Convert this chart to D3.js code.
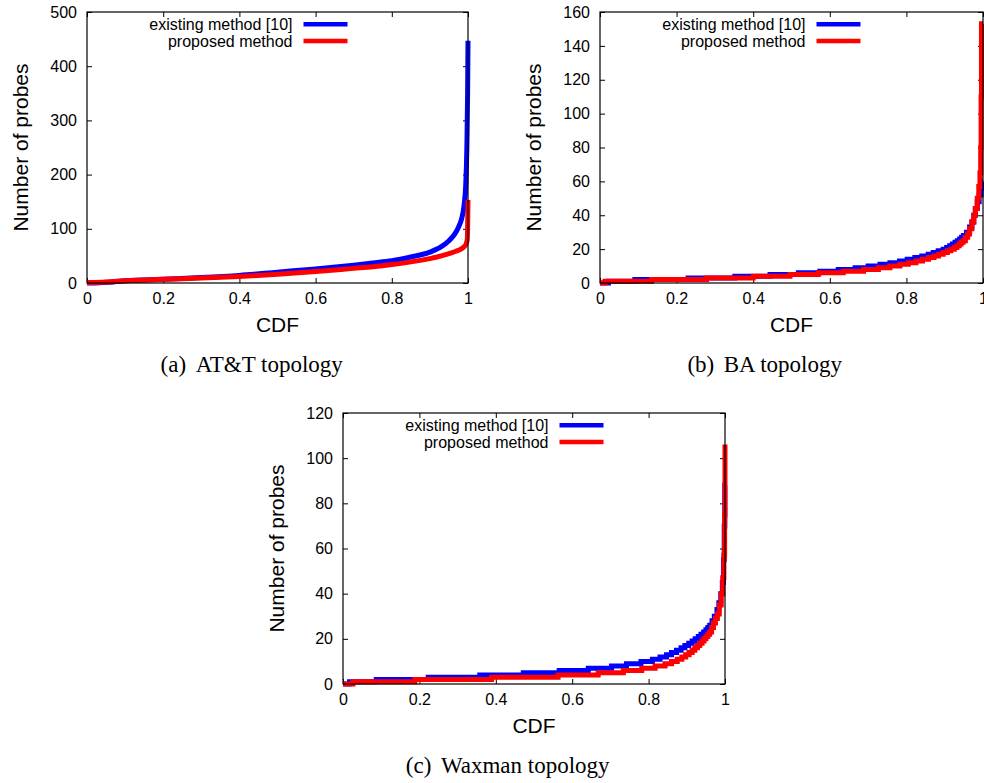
<!DOCTYPE html>
<html>
<head>
<meta charset="utf-8">
<script src="https://cdn.jsdelivr.net/npm/d3@7"></script>
<style>
  html, body { margin: 0; padding: 0; background: #fff; }
  svg { display: block; }
  .tick text { font-family: "Liberation Sans", Arial, sans-serif; font-size: 16px; fill: #000; }
</style>
</head>
<body>
<svg id="fig" width="984" height="783"></svg>
<script>
// ---- data: CDF of the number of probes per topology ----
const xTicks = [0, 0.2, 0.4, 0.6, 0.8, 1];
const attTicks = [0, 100, 200, 300, 400, 500];
const baTicks = [0, 20, 40, 60, 80, 100, 120, 140, 160];
const waxTicks = [0, 20, 40, 60, 80, 100, 120];

const seriesNames = ["existing method [10]", "proposed method"];
const captions = ["(a)\u00a0\u2006AT&T topology", "(b)\u00a0\u2006BA topology", "(c)\u00a0\u2006Waxman topology"];

// AT&T topology
const attExistingCdf    = [0, 0.07, 0.1, 0.2, 0.3, 0.4, 0.5, 0.6, 0.7, 0.75, 0.8, 0.85, 0.9, 0.93, 0.95, 0.965, 0.975, 0.983, 0.99, 0.994, 0.997, 0.999, 1.0];
const attExistingProbes = [0, 2, 4, 7, 10, 14, 20, 26, 33, 37, 41, 48, 57, 67, 78, 90, 103, 118, 145, 180, 250, 350, 447];
const attProposedCdf    = [0, 0.05, 0.1, 0.2, 0.3, 0.4, 0.5, 0.6, 0.7, 0.75, 0.8, 0.85, 0.9, 0.93, 0.95, 0.97, 0.98, 0.99, 0.995, 0.998, 0.999, 1.0];
const attProposedProbes = [1, 2, 4, 7, 9, 12, 16, 21, 27, 30, 34, 39, 45, 50, 54, 59, 62, 67, 72, 80, 100, 153];

// BA topology
const baExistingCdf    = [0, 0.022, 0.091, 0.23, 0.352, 0.444, 0.518, 0.574, 0.622, 0.666, 0.70, 0.731, 0.757, 0.782, 0.802, 0.822, 0.84, 0.857, 0.87, 0.883, 0.896, 0.905, 0.913, 0.92, 0.927, 0.933, 0.939, 0.944, 0.949, 0.957, 0.965, 0.971, 0.976, 0.98, 0.985, 0.99, 0.995, 0.999, 1.0];
const baExistingProbes = [0, 1, 2, 3, 4, 5, 6, 7, 8, 9, 10, 11, 12, 13, 14, 15, 16, 17, 18, 19, 20, 21, 22, 23, 24, 25, 26, 27, 28, 30, 33, 36, 40, 44, 48, 52, 56, 60, 60];
const baProposedCdf    = [0, 0.013, 0.135, 0.278, 0.40, 0.496, 0.57, 0.635, 0.688, 0.727, 0.757, 0.783, 0.805, 0.825, 0.842, 0.858, 0.872, 0.884, 0.896, 0.907, 0.916, 0.925, 0.932, 0.938, 0.943, 0.948, 0.954, 0.96, 0.965, 0.971, 0.976, 0.98, 0.985, 0.989, 0.992, 0.994, 0.995, 0.996, 1.0];
const baProposedProbes = [0, 1, 2, 3, 4, 5, 6, 7, 8, 9, 10, 11, 12, 13, 14, 15, 16, 17, 18, 19, 20, 21, 22, 23, 24, 25, 27, 29, 32, 36, 40, 44, 50, 57, 65, 80, 110, 153, 153];

// Waxman topology
const waxExistingCdf    = [0, 0.017, 0.087, 0.223, 0.358, 0.472, 0.566, 0.642, 0.703, 0.742, 0.78, 0.81, 0.83, 0.847, 0.86, 0.873, 0.885, 0.895, 0.905, 0.914, 0.922, 0.93, 0.937, 0.944, 0.95, 0.955, 0.96, 0.966, 0.972, 0.979, 0.984, 0.989, 0.993, 0.996, 0.998, 0.9995, 1.0];
const waxExistingProbes = [0, 1, 2, 3, 4, 5, 6, 7, 8, 9, 10, 11, 12, 13, 14, 15, 16, 17, 18, 19, 20, 21, 22, 23, 24, 25, 26, 28, 30, 33, 36, 40, 45, 55, 70, 88, 88];
const waxProposedCdf    = [0, 0.026, 0.188, 0.389, 0.563, 0.668, 0.734, 0.782, 0.817, 0.843, 0.86, 0.875, 0.887, 0.897, 0.906, 0.914, 0.921, 0.928, 0.934, 0.94, 0.945, 0.95, 0.955, 0.96, 0.965, 0.97, 0.975, 0.98, 0.985, 0.99, 0.994, 0.997, 0.999, 1.0];
const waxProposedProbes = [0, 1, 2, 3, 4, 5, 6, 7, 8, 9, 10, 11, 12, 13, 14, 15, 16, 17, 18, 19, 20, 21, 22, 23, 25, 27, 29, 31, 35, 40, 47, 57, 75, 106];

// ---- layout ----
const colors = ["#0000ff", "#ff0000"];
const sans = '"Liberation Sans", Arial, sans-serif';
const serif = '"Liberation Serif", "Times New Roman", serif';

const panels = [
  { box: [87, 468, 12, 283], yMax: 500, yTicks: attTicks, curve: d3.curveMonotoneX, caption: captions[0],
    series: [[attExistingCdf, attExistingProbes], [attProposedCdf, attProposedProbes]] },
  { box: [600, 983, 12, 283], yMax: 160, yTicks: baTicks, curve: d3.curveStepAfter, caption: captions[1],
    series: [[baExistingCdf, baExistingProbes], [baProposedCdf, baProposedProbes]] },
  { box: [343, 725, 413, 684], yMax: 120, yTicks: waxTicks, curve: d3.curveStepAfter, caption: captions[2],
    series: [[waxExistingCdf, waxExistingProbes], [waxProposedCdf, waxProposedProbes]] }
];

const svg = d3.select("#fig");
svg.append("rect").attr("width", 984).attr("height", 783).attr("fill", "#fff");

panels.forEach(p => {
  const [left, right, top, bottom] = p.box;
  const x = d3.scaleLinear().domain([0, 1]).range([left, right]);
  const y = d3.scaleLinear().domain([0, p.yMax]).range([bottom, top]);
  const g = svg.append("g");

  // axes with inward ticks, mirrored on top and right
  const fmt = d => String(d);
  g.append("g").attr("transform", `translate(0,${bottom})`)
    .call(d3.axisBottom(x).tickValues(xTicks).tickFormat(fmt).tickSizeInner(-5).tickSizeOuter(0).tickPadding(10));
  g.append("g").attr("transform", `translate(0,${top})`)
    .call(d3.axisTop(x).tickValues(xTicks).tickFormat("").tickSizeInner(-5).tickSizeOuter(0));
  g.append("g").attr("transform", `translate(${left},0)`)
    .call(d3.axisLeft(y).tickValues(p.yTicks).tickFormat(fmt).tickSizeInner(-5).tickSizeOuter(0).tickPadding(10));
  g.append("g").attr("transform", `translate(${right},0)`)
    .call(d3.axisRight(y).tickValues(p.yTicks).tickFormat("").tickSizeInner(-5).tickSizeOuter(0));
  g.selectAll(".domain").remove();
  g.selectAll(".tick line").attr("stroke", "#000").attr("stroke-width", 1);

  // curves: existing first, proposed drawn over it
  const line = d3.line().x(d => x(d[0])).y(d => y(d[1])).curve(p.curve);
  p.series.forEach((s, i) => {
    const pts = s[0].map((c, k) => [c, s[1][k]]);
    g.append("path").datum(pts)
      .attr("d", line)
      .attr("fill", "none")
      .attr("stroke", colors[i])
      .attr("stroke-width", 5)
      .attr("stroke-linejoin", "miter")
      .attr("stroke-linecap", "butt");
  });

  // frame
  g.append("rect")
    .attr("x", left).attr("y", top)
    .attr("width", right - left).attr("height", bottom - top)
    .attr("fill", "none").attr("stroke", "#000").attr("stroke-width", 1.2);

  // legend
  seriesNames.forEach((name, i) => {
    const ly = top + 12.3 + i * 16.7;
    g.append("text")
      .attr("x", left + 205.5).attr("y", ly).attr("dy", "0.35em")
      .attr("text-anchor", "end")
      .style("font-family", sans).style("font-size", "16px")
      .text(name);
    g.append("line")
      .attr("x1", left + 216.5).attr("x2", left + 260.5)
      .attr("y1", ly).attr("y2", ly)
      .attr("stroke", colors[i]).attr("stroke-width", 4.5);
  });

  // axis titles
  g.append("text")
    .attr("transform", `translate(${left - 66.7},${(top + bottom) / 2}) rotate(-90)`)
    .attr("dy", "0.35em").attr("text-anchor", "middle")
    .style("font-family", sans).style("font-size", "21px")
    .text("Number of probes");
  g.append("text")
    .attr("x", (left + right) / 2).attr("y", bottom + 48.7)
    .attr("text-anchor", "middle")
    .style("font-family", sans).style("font-size", "21px")
    .text("CDF");

  // sub-figure caption
  g.append("text")
    .attr("x", left + 164.7).attr("y", bottom + 88.7)
    .attr("text-anchor", "middle")
    .style("font-family", serif).style("font-size", "23px")
    .text(p.caption);
});
</script>
</body>
</html>
